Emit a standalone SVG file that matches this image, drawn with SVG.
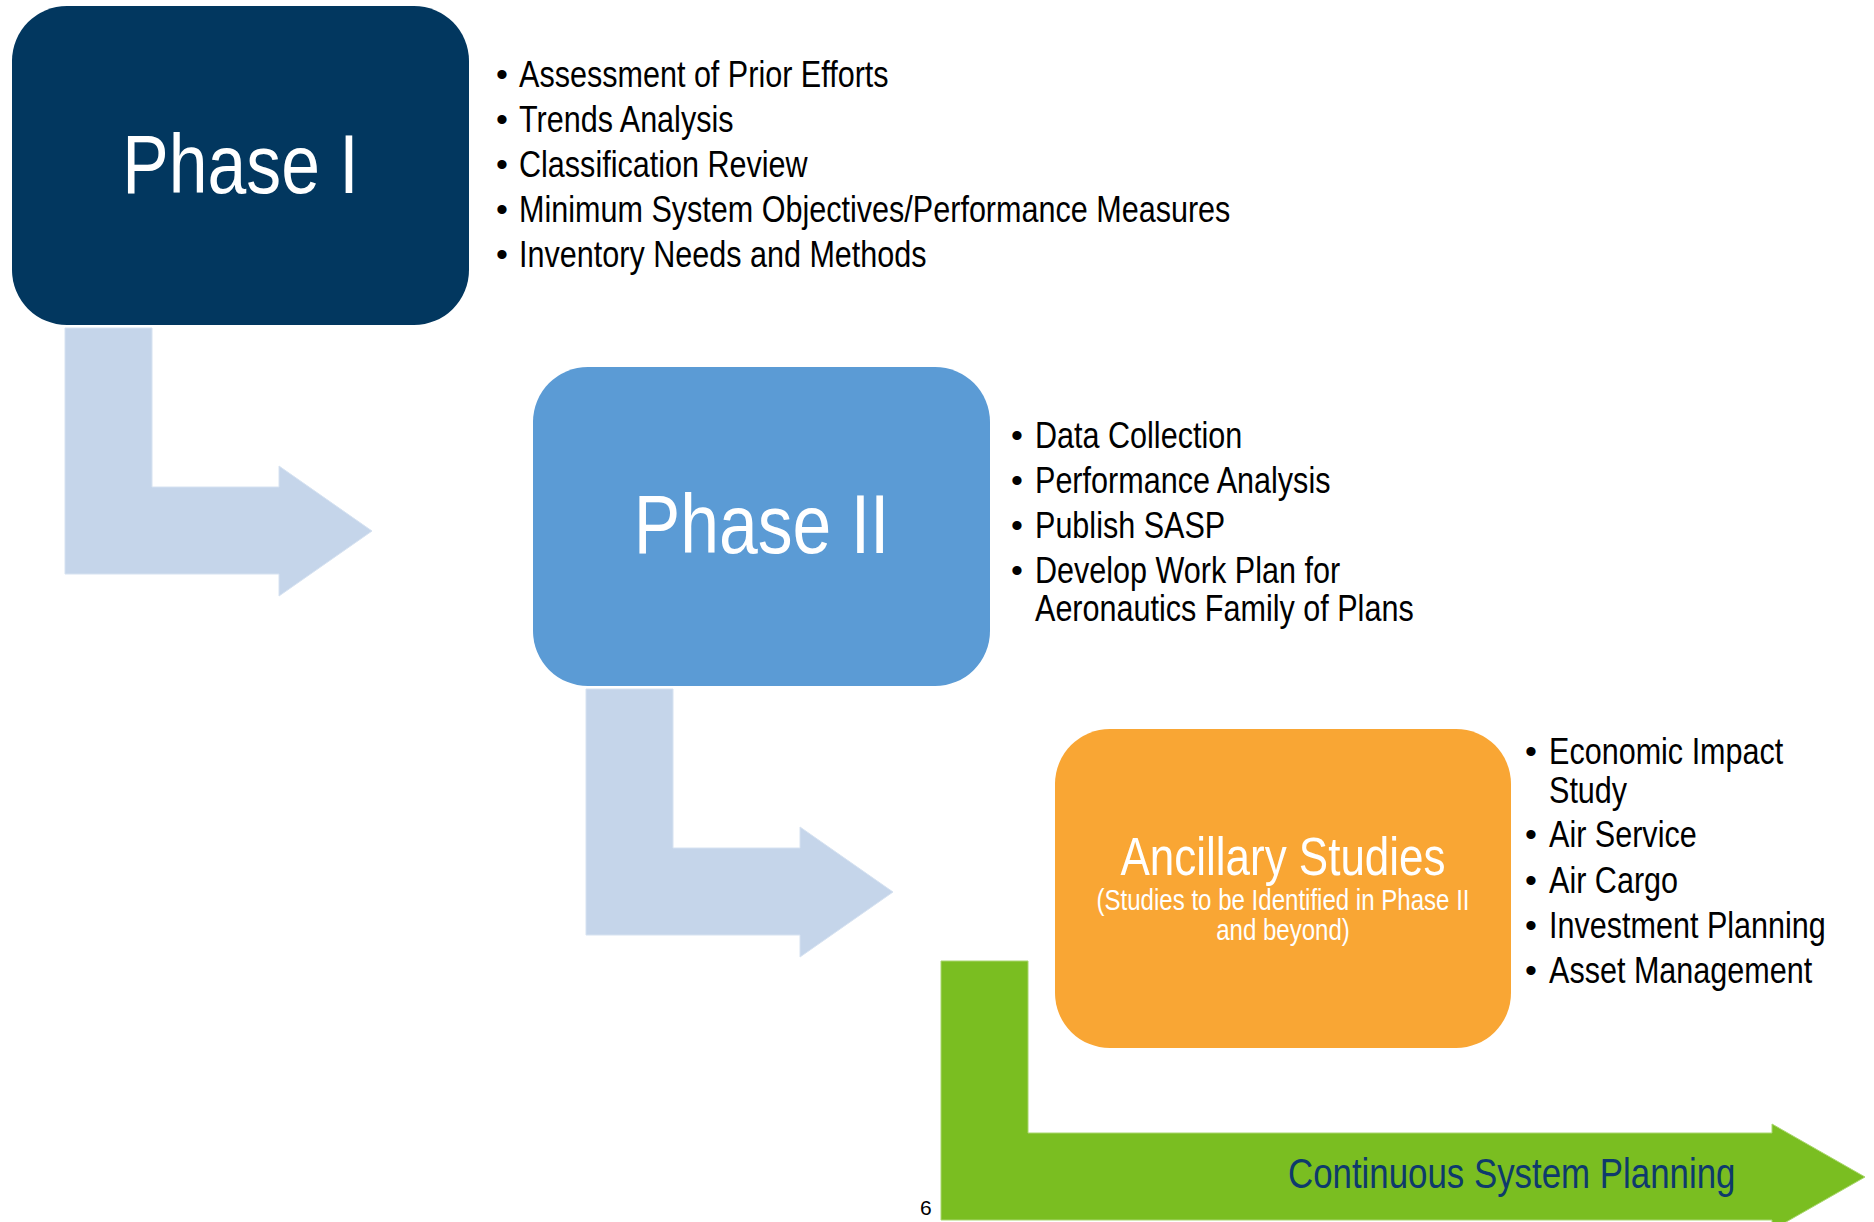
<svg xmlns="http://www.w3.org/2000/svg" width="1874" height="1222" viewBox="0 0 1874 1222">
  <style>
    .box-title { font-family: "Liberation Sans", Arial, sans-serif; fill: #ffffff; }
    .bul { font-family: "Liberation Sans", Arial, sans-serif; font-size: 37px; fill: #000000; }
    .dot { font-family: "Liberation Sans", Arial, sans-serif; font-size: 34px; fill: #000000; text-anchor: middle; }
    .arrow-blue { fill: #C5D5EA; stroke: #D6E2F1; stroke-width: 1; }
    .arrow-green { fill: #7ABE21; stroke: #A9D66E; stroke-width: 1; }
  </style>

  <g id="connectors">
    <polygon id="arrow-phase1-to-phase2" class="arrow-blue" points="65,328 152,328 152,487 279,487 279,466 372,531 279,596 279,574 65,574"/>
    <polygon id="arrow-phase2-to-ancillary" class="arrow-blue" points="586,689 673,689 673,848 800,848 800,827 893,892 800,957 800,935 586,935"/>
    <g id="arrow-continuous">
      <polygon class="arrow-green" points="941,961 1028,961 1028,1133 1772,1133 1772,1124 1865,1177 1772,1230 1772,1220 941,1220"/>
      <text transform="translate(1288,1188) scale(0.83,1)" x="0" y="0" font-family="Liberation Sans, Arial, sans-serif" font-size="42" fill="#0E3A6C">Continuous System Planning</text>
    </g>
  </g>

  <g id="phase1">
    <rect x="12" y="6" width="457" height="319" rx="55" ry="55" fill="#02375F"/>
    <text class="box-title" transform="translate(240.5,193) scale(0.84,1)" x="0" y="0" font-size="83" text-anchor="middle">Phase I</text>
    <g id="phase1-bullets">
      <text class="dot" x="502" y="86">•</text>
      <text class="dot" x="502" y="131">•</text>
      <text class="dot" x="502" y="176">•</text>
      <text class="dot" x="502" y="221">•</text>
      <text class="dot" x="502" y="266">•</text>
      <g transform="translate(519,0) scale(0.826,1)">
        <text class="bul" x="0" y="87">Assessment of Prior Efforts</text>
        <text class="bul" x="0" y="132">Trends Analysis</text>
        <text class="bul" x="0" y="177">Classification Review</text>
        <text class="bul" x="0" y="222">Minimum System Objectives/Performance Measures</text>
        <text class="bul" x="0" y="267">Inventory Needs and Methods</text>
      </g>
    </g>
  </g>

  <g id="phase2">
    <rect x="533" y="367" width="457" height="319" rx="55" ry="55" fill="#5B9BD5"/>
    <text class="box-title" transform="translate(761.5,553) scale(0.84,1)" x="0" y="0" font-size="83" text-anchor="middle">Phase II</text>
    <g id="phase2-bullets">
      <text class="dot" x="1017" y="447">•</text>
      <text class="dot" x="1017" y="492">•</text>
      <text class="dot" x="1017" y="537">•</text>
      <text class="dot" x="1017" y="582">•</text>
      <g transform="translate(1035,0) scale(0.826,1)">
        <text class="bul" x="0" y="448">Data Collection</text>
        <text class="bul" x="0" y="493">Performance Analysis</text>
        <text class="bul" x="0" y="538">Publish SASP</text>
        <text class="bul" x="0" y="583">Develop Work Plan for</text>
        <text class="bul" x="0" y="621">Aeronautics Family of Plans</text>
      </g>
    </g>
  </g>

  <g id="ancillary">
    <rect x="1055" y="729" width="456" height="319" rx="55" ry="55" fill="#F9A634"/>
    <text class="box-title" transform="translate(1283,875) scale(0.83,1)" x="0" y="0" font-size="53" text-anchor="middle">Ancillary Studies</text>
    <text class="box-title" transform="translate(1283,910) scale(0.83,1)" x="0" y="0" font-size="29" text-anchor="middle">(Studies to be Identified in Phase II</text>
    <text class="box-title" transform="translate(1283,940) scale(0.83,1)" x="0" y="0" font-size="29" text-anchor="middle">and beyond)</text>
    <g id="ancillary-bullets">
      <text class="dot" x="1531" y="763">•</text>
      <text class="dot" x="1531" y="846">•</text>
      <text class="dot" x="1531" y="892">•</text>
      <text class="dot" x="1531" y="937">•</text>
      <text class="dot" x="1531" y="982">•</text>
      <g transform="translate(1549,0) scale(0.826,1)">
        <text class="bul" x="0" y="764">Economic Impact</text>
        <text class="bul" x="0" y="803">Study</text>
        <text class="bul" x="0" y="847">Air Service</text>
        <text class="bul" x="0" y="893">Air Cargo</text>
        <text class="bul" x="0" y="938">Investment Planning</text>
        <text class="bul" x="0" y="983">Asset Management</text>
      </g>
    </g>
  </g>

  <text id="page-number" x="920" y="1215" font-family="Liberation Sans, Arial, sans-serif" font-size="21" fill="#000000">6</text>
</svg>
